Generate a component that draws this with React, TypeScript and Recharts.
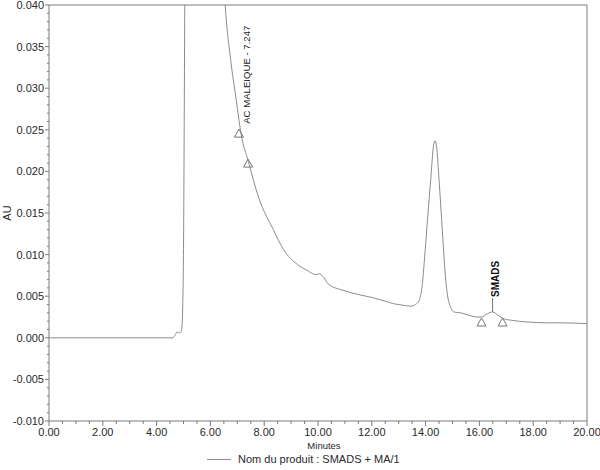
import React from 'react';
import {
  ComposedChart,
  Line,
  Scatter,
  XAxis,
  YAxis,
  ReferenceLine,
  ReferenceDot,
  Legend,
  Label,
} from 'recharts';

// ---- data ----
const times = [
  0, 4.6, 4.7, 4.76, 4.86, 4.93, 4.97, 5.0, 5.03, 5.06, 5.2, 5.6, 6.0, 6.3, 6.55, 6.75, 6.96, 7.14, 7.41,
  7.8, 8.34, 8.72, 9.24, 9.6, 9.91, 10.05, 10.15, 10.4, 10.84, 11.5, 12.07, 12.5, 12.81, 13.2, 13.45,
  13.62, 13.76, 13.87, 13.96, 14.07, 14.19, 14.3, 14.35, 14.42, 14.5, 14.62, 14.75, 14.85, 15.06, 15.3, 15.62,
  15.9, 16.08, 16.3, 16.49, 16.7, 16.9, 17.2, 17.79, 18.5, 19.03, 20,
];
const absorbance = [
  0, 0, 0.0004, 0.0007, 0.0006, 0.0009, 0.0037, 0.0106, 0.028, 0.05, 0.09, 0.12, 0.09, 0.058, 0.04, 0.0335,
  0.0286, 0.0245, 0.0212, 0.0168, 0.013, 0.0106, 0.0088, 0.0081, 0.0076, 0.0077, 0.0075, 0.0064, 0.0058,
  0.0052, 0.0048, 0.0044, 0.0041, 0.0039, 0.0038, 0.004, 0.0045, 0.0062, 0.0095, 0.0142, 0.019, 0.0232,
  0.0237, 0.0226, 0.019, 0.013, 0.0069, 0.0045, 0.0031, 0.003, 0.0027, 0.0025, 0.0025, 0.0029, 0.0031,
  0.0027, 0.0023, 0.0021, 0.0019, 0.0018, 0.0018, 0.0017,
];

// peak start/end markers
const markerTimes = [7.06, 7.4, 16.08, 16.86];
const markerValues = [0.0246, 0.021, 0.0019, 0.0019];

// peak labels
const peakNames = ['AC MALEIQUE - 7.247', 'SMADS'];
const peakTimes = [7.247, 16.49];
const peakValues = [0.0232, 0.0031];

const seriesName = 'Nom du produit : SMADS + MA/1';
const xTitle = 'Minutes';
const yTitle = 'AU';

// tick positions (x every 0.5 min, labels every 2; y every 0.001, labels every 0.005)
const xTicks = Array.from({ length: 41 }, (_, i) => i / 2);
const yTicks = Array.from({ length: 51 }, (_, i) => (i - 10) / 1000);

const data = times.map((t, i) => ({ t, v: absorbance[i] }));
const markers = markerTimes.map((t, i) => ({ t, v: markerValues[i] }));

const FONT = '"Liberation Sans", Arial, sans-serif';
const AXIS = '#7a7a7a';
const TEXT = '#2a2a2a';
const LINE = '#8c8c8c';

const XTick = (props: any) => {
  const { x, y, payload } = props;
  const v = payload.value as number;
  const major = Math.abs(v / 2 - Math.round(v / 2)) < 1e-6;
  return (
    <g>
      <line x1={x} y1={y} x2={x} y2={y + (major ? 5 : 3)} stroke={AXIS} />
      {major && (
        <text x={x} y={y + 15} textAnchor="middle" fontSize={11} fontFamily={FONT} fill={TEXT}>
          {v.toFixed(2)}
        </text>
      )}
    </g>
  );
};

const YTick = (props: any) => {
  const { x, y, payload } = props;
  const v = payload.value as number;
  const k = Math.round(v * 1000);
  const major = k % 5 === 0;
  return (
    <g>
      <line x1={x} y1={y} x2={x - (major ? 4 : 2)} y2={y} stroke={AXIS} />
      {major && (
        <text x={x - 5} y={y + 4} textAnchor="end" fontSize={11} fontFamily={FONT} fill={TEXT}>
          {(k / 1000).toFixed(3)}
        </text>
      )}
    </g>
  );
};

const Triangle = (props: any) => {
  const { cx, cy } = props;
  if (cx == null || cy == null) return <g />;
  return (
    <polygon
      points={`${cx},${cy - 4} ${cx - 4.5},${cy + 4} ${cx + 4.5},${cy + 4}`}
      fill="none"
      stroke="#777"
      strokeWidth={1}
    />
  );
};

const AcLabel = (props: any) => {
  const { cx, cy } = props;
  const x = cx + 6;
  const y = cy - 21;
  return (
    <text
      x={x}
      y={y}
      transform={`rotate(-90 ${x} ${y})`}
      fontSize={9.6}
      fontFamily={FONT}
      fill="#1a1a1a"
    >
      {peakNames[0]}
    </text>
  );
};

const SmadsLabel = (props: any) => {
  const { cx, cy } = props;
  const x = cx + 6.5;
  const y = cy - 15;
  return (
    <g>
      <line x1={cx} y1={cy} x2={cx} y2={cy - 14} stroke="#777" />
      <text
        x={x}
        y={y}
        transform={`rotate(-90 ${x} ${y})`}
        fontSize={10}
        fontWeight="bold"
        fontFamily={FONT}
        fill="#111"
      >
        {peakNames[1]}
      </text>
    </g>
  );
};

const LegendContent = () => (
  <div style={{ position: 'relative', width: 600, height: 16, fontFamily: FONT, fontSize: 11, color: TEXT }}>
    <div style={{ position: 'absolute', left: 207, top: 9, width: 24, borderTop: `1px solid ${LINE}` }} />
    <span style={{ position: 'absolute', left: 238, top: 2, lineHeight: '14px', whiteSpace: 'nowrap' }}>
      {seriesName}
    </span>
  </div>
);

export default function App() {
  return (
    <div style={{ position: 'absolute', left: 0, top: 0, background: '#fff' }}>
      <ComposedChart width={600} height={470} data={data} margin={{ top: 5, right: 13, left: 0, bottom: 3 }}>
        <XAxis
          dataKey="t"
          type="number"
          domain={[0, 20]}
          ticks={xTicks}
          interval={0}
          tick={<XTick />}
          tickLine={false}
          tickSize={0}
          tickMargin={0}
          height={30}
          axisLine={{ stroke: AXIS }}
          allowDataOverflow
        >
          <Label
            content={(p: any) => {
              const vb = p.viewBox || {};
              return (
                <text
                  x={vb.x + vb.width / 2 + 6}
                  y={vb.y + 28}
                  textAnchor="middle"
                  fontSize={9.5}
                  fontFamily={FONT}
                  fill={TEXT}
                >
                  {xTitle}
                </text>
              );
            }}
          />
        </XAxis>
        <YAxis
          type="number"
          domain={[-0.01, 0.04]}
          ticks={yTicks}
          interval={0}
          tick={<YTick />}
          tickLine={false}
          tickSize={0}
          tickMargin={0}
          width={49}
          axisLine={{ stroke: AXIS }}
          allowDataOverflow
        >
          <Label
            content={(p: any) => {
              const vb = p.viewBox || {};
              const cy = vb.y + vb.height / 2;
              return (
                <text
                  x={11}
                  y={cy}
                  transform={`rotate(-90 11 ${cy})`}
                  textAnchor="middle"
                  fontSize={11}
                  fontFamily={FONT}
                  fill={TEXT}
                >
                  {yTitle}
                </text>
              );
            }}
          />
        </YAxis>
        <ReferenceLine y={0.04} stroke={AXIS} />
        <ReferenceLine x={20} stroke={AXIS} />
        <Line
          type="monotone"
          dataKey="v"
          stroke={LINE}
          strokeWidth={1}
          dot={false}
          activeDot={false}
          isAnimationActive={false}
          name={seriesName}
        />
        <Scatter data={markers} dataKey="v" shape={<Triangle />} isAnimationActive={false} legendType="none" />
        <ReferenceDot x={peakTimes[0]} y={peakValues[0]} shape={<AcLabel />} />
        <ReferenceDot x={peakTimes[1]} y={peakValues[1]} shape={<SmadsLabel />} />
        <Legend verticalAlign="bottom" height={16} wrapperStyle={{ left: 0, width: 600, bottom: 4 }} content={<LegendContent />} />
      </ComposedChart>
    </div>
  );
}
